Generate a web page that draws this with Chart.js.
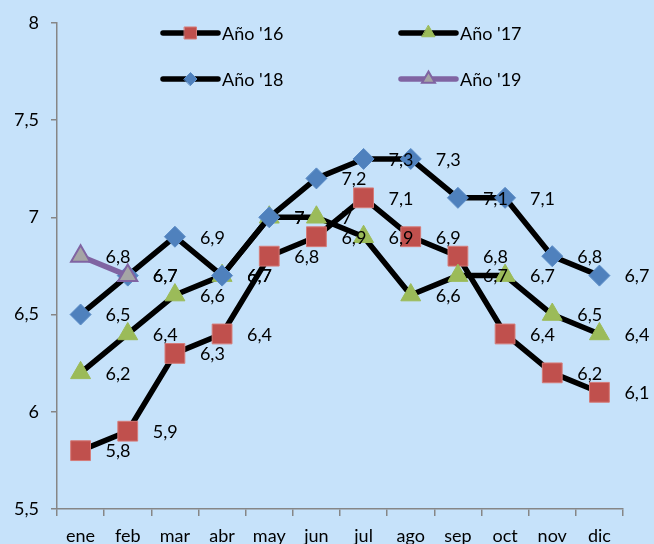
<!DOCTYPE html>
<html>
<head>
<meta charset="utf-8">
<title>Año '16 - Año '19</title>
<script src="https://cdn.jsdelivr.net/npm/chart.js@4.4.1/dist/chart.umd.min.js"></script>
<style>
  body { margin: 0; background: #c6e2fa; }
  #wrap { width: 654px; height: 544px; }
</style>
</head>
<body>
<div id="wrap"><canvas id="lineChart" width="654" height="544"></canvas></div>
<script>
// ================================ data =============================
var months = ["ene", "feb", "mar", "abr", "may", "jun", "jul", "ago", "sep", "oct", "nov", "dic"];
var ano16 = [5.8, 5.9, 6.3, 6.4, 6.8, 6.9, 7.1, 6.9, 6.8, 6.4, 6.2, 6.1];
var ano17 = [6.2, 6.4, 6.6, 6.7, 7.0, 7.0, 6.9, 6.6, 6.7, 6.7, 6.5, 6.4];
var ano18 = [6.5, 6.7, 6.9, 6.7, 7.0, 7.2, 7.3, 7.3, 7.1, 7.1, 6.8, 6.7];
var ano19 = [6.8, 6.7, null, null, null, null, null, null, null, null, null, null];
var yTicks = [5.5, 6, 6.5, 7, 7.5, 8];

var FONT = "Lato, 'Open Sans', sans-serif";

function fmt(v) {
  return String(v).replace(".", ",");
}

// ================================ plugins =============================
var bgPlugin = {
  id: "bg",
  beforeDraw: function (chart) {
    var ctx = chart.ctx;
    ctx.save();
    ctx.fillStyle = "#c6e2fa";
    ctx.fillRect(0, 0, chart.width, chart.height);
    ctx.restore();
  },
};

// value labels to the right of every point
var valueLabels = {
  id: "valueLabels",
  afterDatasetsDraw: function (chart) {
    var ctx = chart.ctx;
    ctx.save();
    ctx.font = "18px " + FONT;
    ctx.fillStyle = "#000";
    ctx.textAlign = "left";
    ctx.textBaseline = "middle";
    chart.data.datasets.forEach(function (ds, i) {
      var meta = chart.getDatasetMeta(i);
      meta.data.forEach(function (pt, j) {
        var v = ds.data[j];
        if (v === null || v === undefined) return;
        ctx.fillText(fmt(v), pt.x + 25, pt.y + 1);
      });
    });
    ctx.restore();
  },
};

// two column legend sitting inside the plot
var gridLegend = {
  id: "gridLegend",
  afterDraw: function (chart) {
    var ctx = chart.ctx;
    var cols = [163, 401];
    var rows = [33, 79];
    var lineLen = 55;
    var radii = [8.5, 7.5, 6.5, 7.5];
    ctx.save();
    chart.data.datasets.forEach(function (ds, i) {
      var x = cols[i % 2];
      var y = rows[Math.floor(i / 2)];
      ctx.beginPath();
      ctx.lineWidth = ds.borderWidth;
      ctx.lineCap = "round";
      ctx.strokeStyle = ds.borderColor;
      ctx.moveTo(x, y);
      ctx.lineTo(x + lineLen, y);
      ctx.stroke();

      ctx.fillStyle = ds.pointBackgroundColor;
      ctx.strokeStyle = ds.pointBorderColor;
      ctx.lineWidth = ds.pointBorderWidth;
      Chart.helpers.drawPoint(ctx, {
        pointStyle: ds.pointStyle,
        radius: radii[i],
        rotation: 0,
        borderWidth: ds.pointBorderWidth,
      }, x + lineLen / 2, y);

      ctx.font = "18px " + FONT;
      ctx.fillStyle = "#000";
      ctx.textAlign = "left";
      ctx.textBaseline = "middle";
      ctx.fillText(ds.label, x + lineLen + 4, y + 1);
    });
    ctx.restore();
  },
};

// ================================ chart =============================
var ctx = document.getElementById("lineChart").getContext("2d");
var lineChart = new Chart(ctx, {
  type: "line",
  data: {
    labels: months,
    datasets: [
      {
        label: "Año '16",
        data: ano16,
        borderColor: "#000",
        borderWidth: 5.5,
        pointStyle: "rect",
        pointRadius: 14,
        pointBackgroundColor: "#c0504d",
        pointBorderColor: "#d57b78",
        pointBorderWidth: 1,
        order: 4,
      },
      {
        label: "Año '17",
        data: ano17,
        borderColor: "#000",
        borderWidth: 5.5,
        pointStyle: "triangle",
        pointRadius: 11.5,
        pointBackgroundColor: "#9bbb59",
        pointBorderColor: "#9bbb59",
        pointBorderWidth: 1,
        order: 3,
      },
      {
        label: "Año '18",
        data: ano18,
        borderColor: "#000",
        borderWidth: 5.5,
        pointStyle: "rectRot",
        pointRadius: 10.5,
        pointBackgroundColor: "#4f81bd",
        pointBorderColor: "#5b8cc6",
        pointBorderWidth: 1,
        order: 2,
      },
      {
        label: "Año '19",
        data: ano19,
        borderColor: "#8064a2",
        borderWidth: 5.5,
        pointStyle: "triangle",
        pointRadius: 11,
        pointBackgroundColor: "#a5a5a5",
        pointBorderColor: "#8064a2",
        pointBorderWidth: 2,
        order: 1,
      },
    ],
  },
  options: {
    responsive: false,
    animation: false,
    events: [],
    spanGaps: false,
    elements: {
      line: { tension: 0, borderJoinStyle: "round", borderCapStyle: "round" },
    },
    layout: { padding: { top: 21, right: 31, left: 0, bottom: 0 } },
    plugins: {
      legend: { display: false },
      tooltip: { enabled: false },
    },
    scales: {
      x: {
        offset: true,
        grid: {
          offset: true,
          drawOnChartArea: false,
          drawTicks: true,
          tickLength: 7,
          color: "#868686",
          lineWidth: 1.5,
        },
        border: { color: "#868686", width: 1.5 },
        ticks: { color: "#000", font: { family: FONT, size: 18 }, padding: 9, maxRotation: 0 },
        afterFit: function (scale) {
          scale.height = 35;
        },
      },
      y: {
        min: 5.5,
        max: 8,
        grid: {
          drawOnChartArea: false,
          drawTicks: true,
          tickLength: 6,
          color: "#868686",
          lineWidth: 1.5,
        },
        border: { color: "#868686", width: 1.5 },
        afterBuildTicks: function (scale) {
          scale.ticks = yTicks.map(function (v) {
            return { value: v };
          });
        },
        ticks: {
          color: "#000",
          font: { family: FONT, size: 18 },
          padding: 12,
          callback: function (value) {
            return fmt(value);
          },
        },
        afterFit: function (scale) {
          scale.width = 57;
        },
      },
    },
  },
  plugins: [bgPlugin, valueLabels, gridLegend],
});
</script>
</body>
</html>
